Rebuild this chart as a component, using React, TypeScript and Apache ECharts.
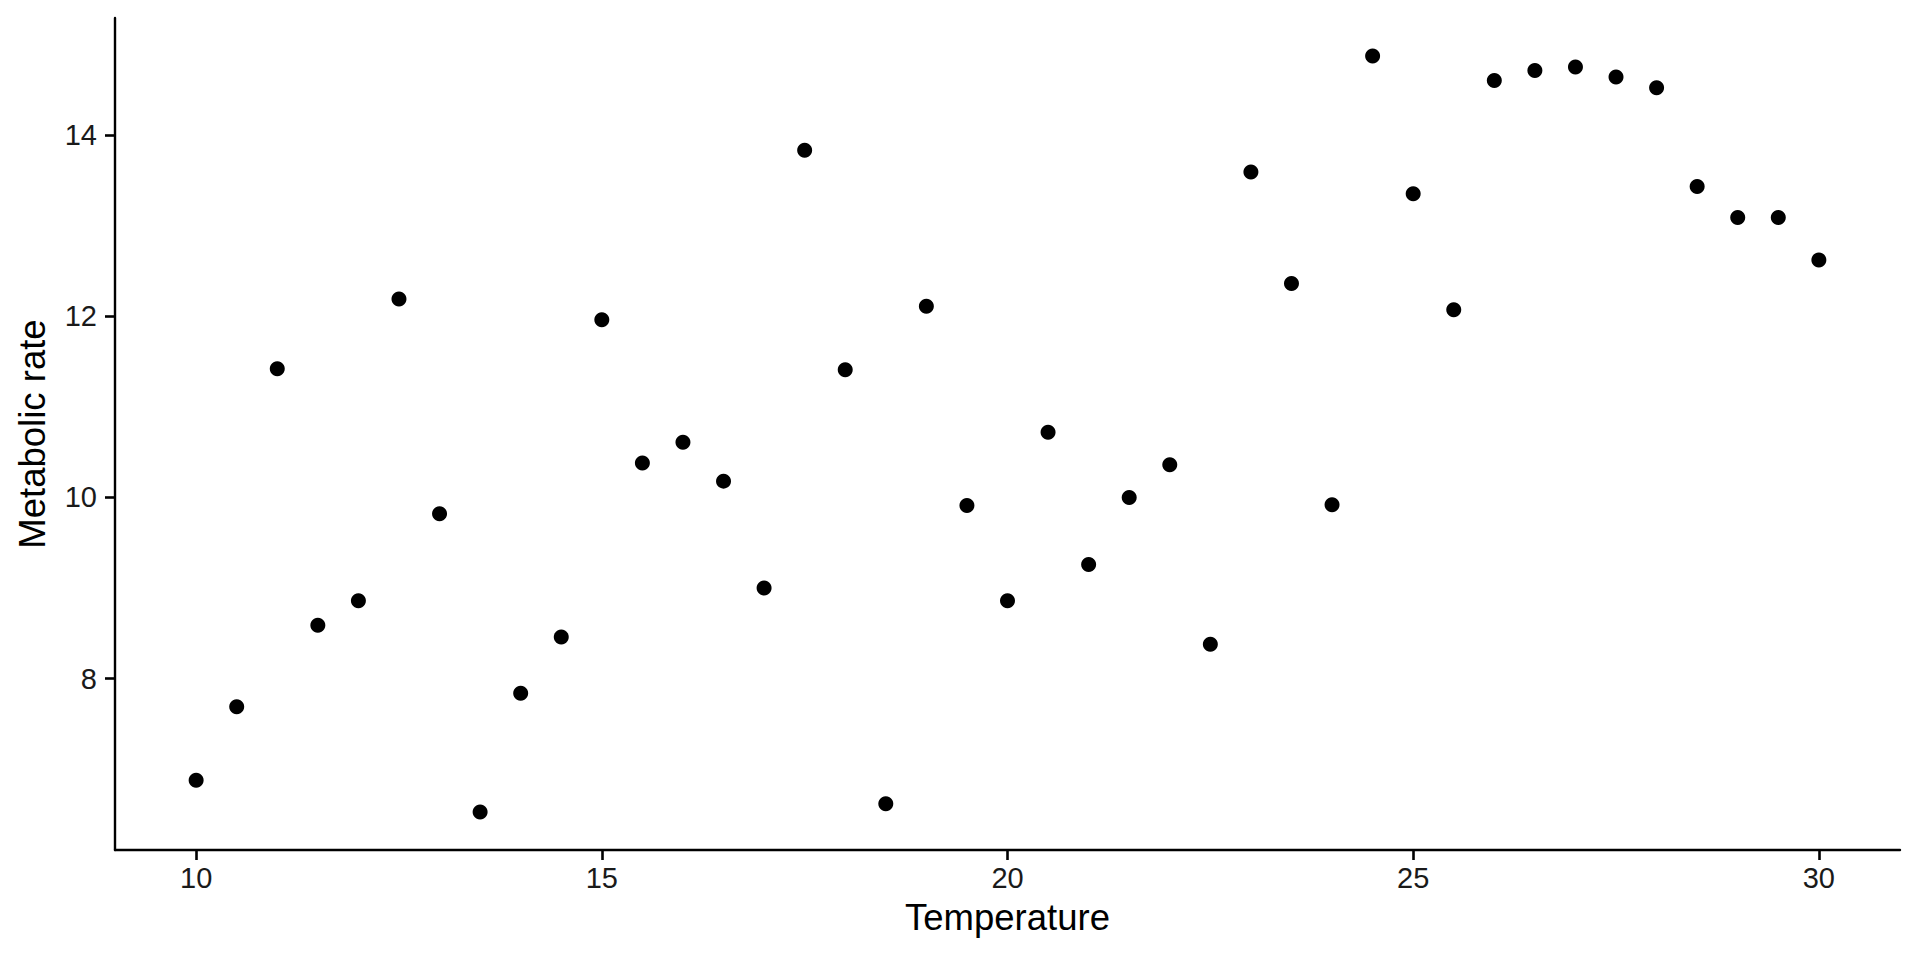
import { useEffect, useRef } from 'react';
import * as echarts from 'echarts';

// Temperature steps (x) and the measured metabolic rate (y)
const temperature = [
  10, 10.5, 11, 11.5, 12, 12.5, 13, 13.5, 14, 14.5,
  15, 15.5, 16, 16.5, 17, 17.5, 18, 18.5, 19, 19.5,
  20, 20.5, 21, 21.5, 22, 22.5, 23, 23.5, 24, 24.5,
  25, 25.5, 26, 26.5, 27, 27.5, 28, 28.5, 29, 29.5, 30,
];
const metabolicRate = [
  6.88, 7.69, 11.42, 8.59, 8.86, 12.19, 9.82, 6.53, 7.84, 8.46,
  11.96, 10.38, 10.61, 10.18, 9.0, 13.83, 11.41, 6.62, 12.11, 9.91,
  8.86, 10.72, 9.26, 10.0, 10.36, 8.38, 13.59, 12.36, 9.92, 14.87,
  13.35, 12.07, 14.6, 14.71, 14.75, 14.64, 14.52, 13.43, 13.09, 13.09, 12.62,
];
const xTicks = [10, 15, 20, 25, 30];
const yTicks = [8, 10, 12, 14];
const xRange = [9, 31];
const yRange = [6.11, 15.29];

const FONT = '"Liberation Sans", Arial, Helvetica, sans-serif';

export default function App() {
  const chartRef = useRef<HTMLDivElement>(null);

  useEffect(() => {
    if (!chartRef.current) return;
    const chart = echarts.init(chartRef.current, null, { renderer: 'svg' });

    const axisLine = { show: true, lineStyle: { color: '#000', width: 2.4 } };
    const tickStyle = { color: '#000', width: 2.6 };

    chart.setOption({
      animation: false,
      backgroundColor: '#fff',
      textStyle: { fontFamily: FONT },
      grid: { left: 115, right: 20, top: 18, bottom: 110 },
      xAxis: {
        type: 'value',
        min: xRange[0],
        max: xRange[1],
        name: 'Temperature',
        nameLocation: 'middle',
        nameGap: 49,
        nameTextStyle: { color: '#000', fontSize: 36.5, fontFamily: FONT },
        axisLine,
        axisTick: { show: true, length: 10, customValues: xTicks, lineStyle: tickStyle },
        axisLabel: {
          customValues: xTicks,
          color: '#1a1a1a',
          fontSize: 29,
          margin: 13,
          fontFamily: FONT,
        },
        splitLine: { show: false },
      },
      yAxis: {
        type: 'value',
        min: yRange[0],
        max: yRange[1],
        name: 'Metabolic rate',
        nameLocation: 'middle',
        nameGap: 64,
        nameTextStyle: { color: '#000', fontSize: 36.5, fontFamily: FONT },
        axisLine,
        axisTick: { show: true, length: 10, customValues: yTicks, lineStyle: tickStyle },
        axisLabel: {
          customValues: yTicks,
          color: '#1a1a1a',
          fontSize: 29,
          margin: 18,
          fontFamily: FONT,
        },
        splitLine: { show: false },
      },
      series: [
        {
          type: 'scatter',
          symbol: 'circle',
          symbolSize: 15,
          itemStyle: { color: '#000', opacity: 1 },
          data: temperature.map((t, i) => [t, metabolicRate[i]]),
        },
      ],
    });

    const handleResize = () => chart.resize();
    window.addEventListener('resize', handleResize);

    return () => {
      window.removeEventListener('resize', handleResize);
      chart.dispose();
    };
  }, []);

  return (
    <div
      ref={chartRef}
      style={{ position: 'fixed', left: 0, top: 0, width: 1920, height: 960 }}
    />
  );
}
